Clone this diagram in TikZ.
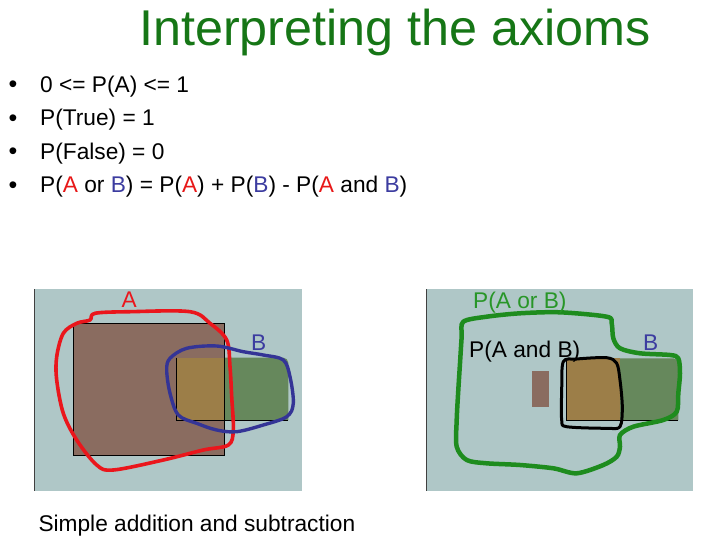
\documentclass[tikz,border=0pt]{standalone}
\usepackage{fontspec}
\setmainfont{Liberation Sans}
\definecolor{panelbg}{RGB}{175,199,199}
\definecolor{abrown}{RGB}{138,108,96}
\definecolor{overlapc}{RGB}{156,126,72}
\definecolor{bgreen}{RGB}{102,136,92}
\definecolor{redline}{RGB}{234,22,28}
\definecolor{blueline}{RGB}{52,52,150}
\definecolor{greenline}{RGB}{30,140,30}
\definecolor{titlegreen}{RGB}{22,118,22}
\definecolor{labelgreen}{RGB}{40,150,40}
\definecolor{txtred}{RGB}{232,24,24}
\definecolor{txtblue}{RGB}{60,60,160}
\begin{document}
\begin{tikzpicture}[x=1pt,y=-1pt,
  txt/.style={anchor=base west, inner sep=0pt, font=\fontsize{22.7}{26}\selectfont},
  bul/.style={anchor=base west, inner sep=0pt, font=\fontsize{25}{28}\selectfont},
  loop/.style={line join=round, line cap=round},
  edge/.style={draw=black, line width=0.9pt}]
\useasboundingbox (0,0) rectangle (720,540);
\fill[white] (0,0) rectangle (720,540);

% title
\node[txt, text=titlegreen, font=\fontsize{50.3}{60}\selectfont] (title) at (139,45.5) {Interpreting the axioms};

% bullets
\node[bul] (d1) at (8.5,93) {•};
\node[bul] (d2) at (8.5,126.5) {•};
\node[bul] (d3) at (8.5,160) {•};
\node[bul] (d4) at (8.5,193.5) {•};
\node[txt] (l1) at (40,92.5) {0 <= P(A) <= 1};
\node[txt] (l2) at (40,126) {P(True) = 1};
\node[txt] (l3) at (40,159.5) {P(False) = 0};
\node[txt] (l4) at (40,193) {P(\textcolor{txtred}{A} or \textcolor{txtblue}{B}) = P(\textcolor{txtred}{A}) + P(\textcolor{txtblue}{B}) - P(\textcolor{txtred}{A} and \textcolor{txtblue}{B})};

% ---------- left panel ----------
\fill[panelbg] (34.7,289) rectangle (302,491);
\draw[black!75, line width=1pt] (34.7,289) -- (34.7,491);
\fill[abrown] (73.3,323.3) rectangle (224.3,455);
\fill[bgreen] (224.3,357.7) -- (283.3,357.7) to[out=0,in=90] (288.3,362.7) -- (288.3,420) -- (224.3,420) -- cycle;
\fill[overlapc] (176.7,357.7) rectangle (224.3,420);
\draw[edge] (73.3,323.3) rectangle (224.3,455);
\draw[edge] (176.7,357.7) -- (176.7,420) -- (288.3,420);

\draw[redline, line width=3.6pt, loop] plot[smooth cycle, tension=0.55] coordinates {
 (95,313.3) (130,311.7) (190,311.7) (210,323.3) (226.7,340) (230,366.7) (231.7,396.7)
 (233.3,430) (228.3,445) (203.3,450) (163.3,460) (113.3,470) (96.7,465) (76.7,440)
 (63.3,413.3) (56.7,380) (56.7,356.7) (63.3,333.3) (76.7,323.3) (90,320)};
\draw[blueline, line width=3.4pt, loop] plot[smooth cycle, tension=0.55] coordinates {
 (170,358.3) (186.7,348.3) (216.7,346) (243.3,351.7) (263.3,355) (283.3,360) (290,376.7)
 (293.3,403.3) (286.7,416.7) (263.3,425) (236.7,431.7) (216.7,430) (196.7,423.3)
 (178.3,415) (170,393.3) (166.7,370)};
\node[txt, text=redline] (la) at (121.5,307.7) {A};
\node[txt, text=txtblue] (lb) at (251,350) {B};

% ---------- right panel ----------
\fill[panelbg] (426,289) rectangle (693,491);
\draw[black!75, line width=1pt] (426,289) -- (426,491);
\fill[abrown] (532.3,371) rectangle (549.3,406.7);
\fill[bgreen] (620,358.3) -- (673.3,358.3) to[out=0,in=90] (678.3,363.3) -- (678.3,420) -- (620,420) -- cycle;
\fill[overlapc] (566.7,358.3) rectangle (620,420);
\draw[edge] (566.7,358.3) -- (566.7,420) -- (678.3,420);

\draw[black, line width=3pt, loop] plot[smooth cycle, tension=0.5] coordinates {
 (563.3,361.7) (576.7,359) (606.7,357.7) (616.7,363.3) (620,380) (622.3,406.7)
 (620,426.7) (606.7,428.3) (566.7,426.7) (561.7,420) (561.7,390)};
\draw[greenline, line width=4.5pt, loop] plot[smooth cycle, tension=0.5] coordinates {
 (463.3,321.7) (486.7,316.7) (520,313.3) (560,312.3) (606.7,316.7) (611.7,323.3)
 (613.3,338.3) (620,348.3) (640,353.3) (670,355) (678.3,358.3) (680,373.3) (678.3,393.3)
 (676.7,411.7) (663.3,420) (633.3,426.7) (620,435) (620,446.7) (616.7,456.7) (603.3,465)
 (576.7,473.3) (553.3,468.3) (520,465) (486.7,463.3) (466.7,460) (456.7,446.7)
 (456.7,420) (458.3,390) (460,363.3) (461.7,336.7)};
\node[txt, text=labelgreen] (lor) at (473,308.5) {P(A or B)};
\node[txt] (land) at (469,357) {P(A and B)};
\node[txt, text=txtblue] (rb) at (643,350) {B};

% caption
\node[txt] (cap) at (38.3,531.5) {Simple addition and subtraction};
\end{tikzpicture}
\end{document}
